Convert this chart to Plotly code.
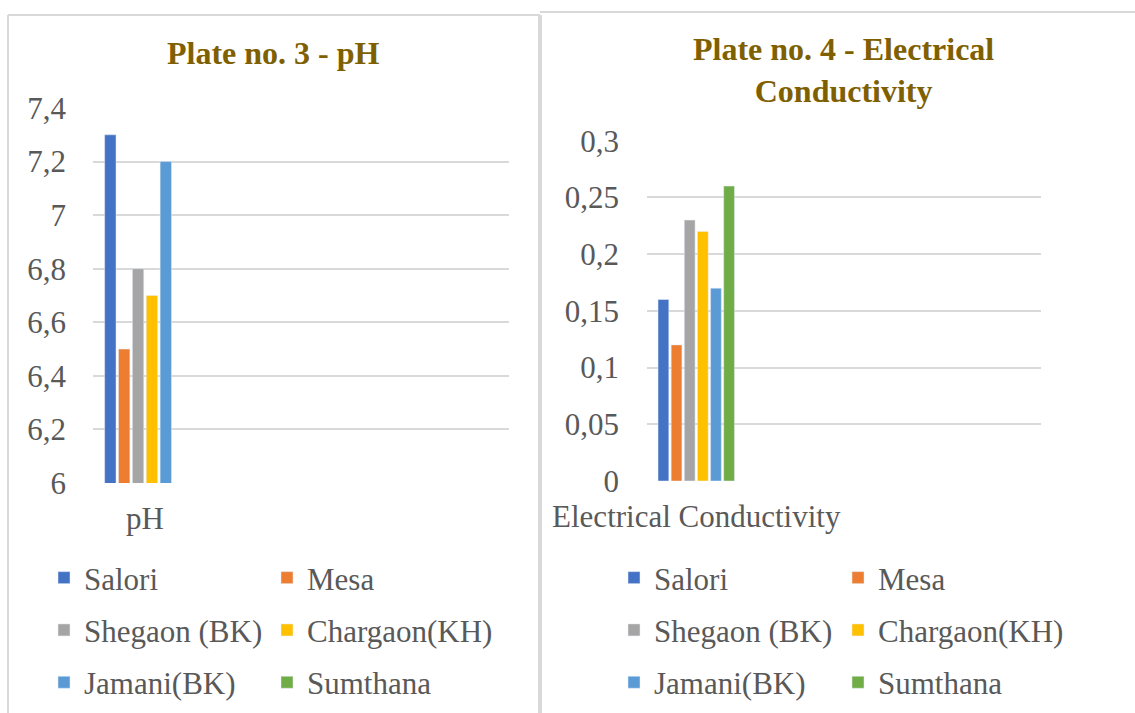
import plotly.graph_objects as go

# Soil test results for the six villages
sites = ["Salori", "Mesa", "Shegaon (BK)", "Chargaon(KH)", "Jamani(BK)", "Sumthana"]
colors = ["#4472C4", "#ED7D31", "#A5A5A5", "#FFC000", "#5B9BD5", "#70AD47"]

ph_category = ["pH"]
ph_values = [7.3, 6.5, 6.8, 6.7, 7.2, None]

ec_category = ["Electrical Conductivity"]
ec_values = [0.16, 0.12, 0.23, 0.22, 0.17, 0.26]

ph_ticks = [6, 6.2, 6.4, 6.6, 6.8, 7, 7.2, 7.4]
ph_ticktext = ["6", "6,2", "6,4", "6,6", "6,8", "7", "7,2", "7,4"]
ec_ticks = [0, 0.05, 0.1, 0.15, 0.2, 0.25, 0.3]
ec_ticktext = ["0", "0,05", "0,1", "0,15", "0,2", "0,25", "0,3"]

W, H = 1135, 713
FONT = "Liberation Serif, Times New Roman, serif"
GREY_TXT = "#595959"
GRID = "#D9D9D9"
TITLE_COLOR = "#7F6000"


def px_x(p):
    return p / W


def px_y(p):
    return 1 - p / H


fig = go.Figure()

# left column of each legend holds items 0, 2, 4; right column items 1, 3, 5
for i, (name, col) in enumerate(zip(sites, colors)):
    fig.add_trace(go.Bar(
        x=ph_category, y=[ph_values[i]], name=name, marker_color=col,
        xaxis="x", yaxis="y", legend="legend" if i % 2 == 0 else "legend2",
        legendgroup=f"ph-{name}", hoverinfo="name+y",
    ))
for i, (name, col) in enumerate(zip(sites, colors)):
    fig.add_trace(go.Bar(
        x=ec_category, y=[ec_values[i]], name=name, marker_color=col,
        xaxis="x2", yaxis="y2", legend="legend3" if i % 2 == 0 else "legend4",
        legendgroup=f"ec-{name}", hoverinfo="name+y",
    ))

axis_font = dict(family=FONT, size=31, color=GREY_TXT)

x_common = dict(type="category", range=[-0.5, 3.5], showgrid=False, zeroline=False,
                showline=False, ticks="", tickfont=axis_font, ticklabelstandoff=14,
                fixedrange=True)
y_common = dict(showgrid=True, gridcolor=GRID, gridwidth=2, zeroline=False,
                showline=False, ticks="", tickfont=axis_font, tickmode="array",
                fixedrange=True)

fig.update_layout(
    xaxis=dict(domain=[px_x(93), px_x(509)], anchor="y", **x_common),
    yaxis=dict(domain=[px_y(483), px_y(108)], anchor="x", range=[6, 7.4001],
               tickvals=ph_ticks, ticktext=ph_ticktext, ticklabelstandoff=26, **y_common),
    xaxis2=dict(domain=[px_x(647), px_x(1041)], anchor="y2", **x_common),
    yaxis2=dict(domain=[px_y(481), px_y(140.6)], anchor="x2", range=[0, 0.3001],
                tickvals=ec_ticks, ticktext=ec_ticktext, ticklabelstandoff=27, **y_common),
)

legend_common = dict(orientation="v", font=dict(family=FONT, size=31, color=GREY_TXT),
                     bgcolor="rgba(0,0,0,0)", xanchor="left", yanchor="top",
                     tracegroupgap=9, itemclick=False, itemdoubleclick=False)
fig.update_layout(
    legend=dict(x=px_x(44), y=px_y(551), **legend_common),
    legend2=dict(x=px_x(267), y=px_y(551), **legend_common),
    legend3=dict(x=px_x(614), y=px_y(551), **legend_common),
    legend4=dict(x=px_x(838), y=px_y(551), **legend_common),
)

# chart titles
title_font = dict(family=FONT, size=32, color=TITLE_COLOR)
fig.add_annotation(text="<b>Plate no. 3 - pH</b>", x=px_x(273), y=px_y(53),
                   xref="paper", yref="paper", showarrow=False, font=title_font,
                   xanchor="center", yanchor="middle")
fig.add_annotation(text="<b>Plate no. 4 - Electrical<br>Conductivity</b>", x=px_x(843),
                   y=px_y(70), xref="paper", yref="paper", showarrow=False,
                   font=title_font, xanchor="center", yanchor="middle")

# chart frames
frame = dict(type="line", xref="paper", yref="paper", line=dict(color=GRID, width=2))
fig.add_shape(x0=px_x(8), x1=px_x(8), y0=px_y(15), y1=px_y(720), **frame)
fig.add_shape(x0=px_x(8), x1=px_x(540), y0=px_y(15), y1=px_y(15), **frame)
fig.add_shape(type="line", xref="paper", yref="paper", x0=px_x(540), x1=px_x(540),
              y0=px_y(15), y1=px_y(720), line=dict(color=GRID, width=4))
fig.add_shape(x0=px_x(540), x1=px_x(1140), y0=px_y(12), y1=px_y(12), **frame)

fig.update_layout(
    width=W, height=H,
    margin=dict(l=0, r=0, t=0, b=0, autoexpand=False),
    paper_bgcolor="white", plot_bgcolor="white",
    barmode="group", bargap=0.2, bargroupgap=0.18,
    showlegend=True,
)

fig.write_html("out.html", config={"displayModeBar": False})
